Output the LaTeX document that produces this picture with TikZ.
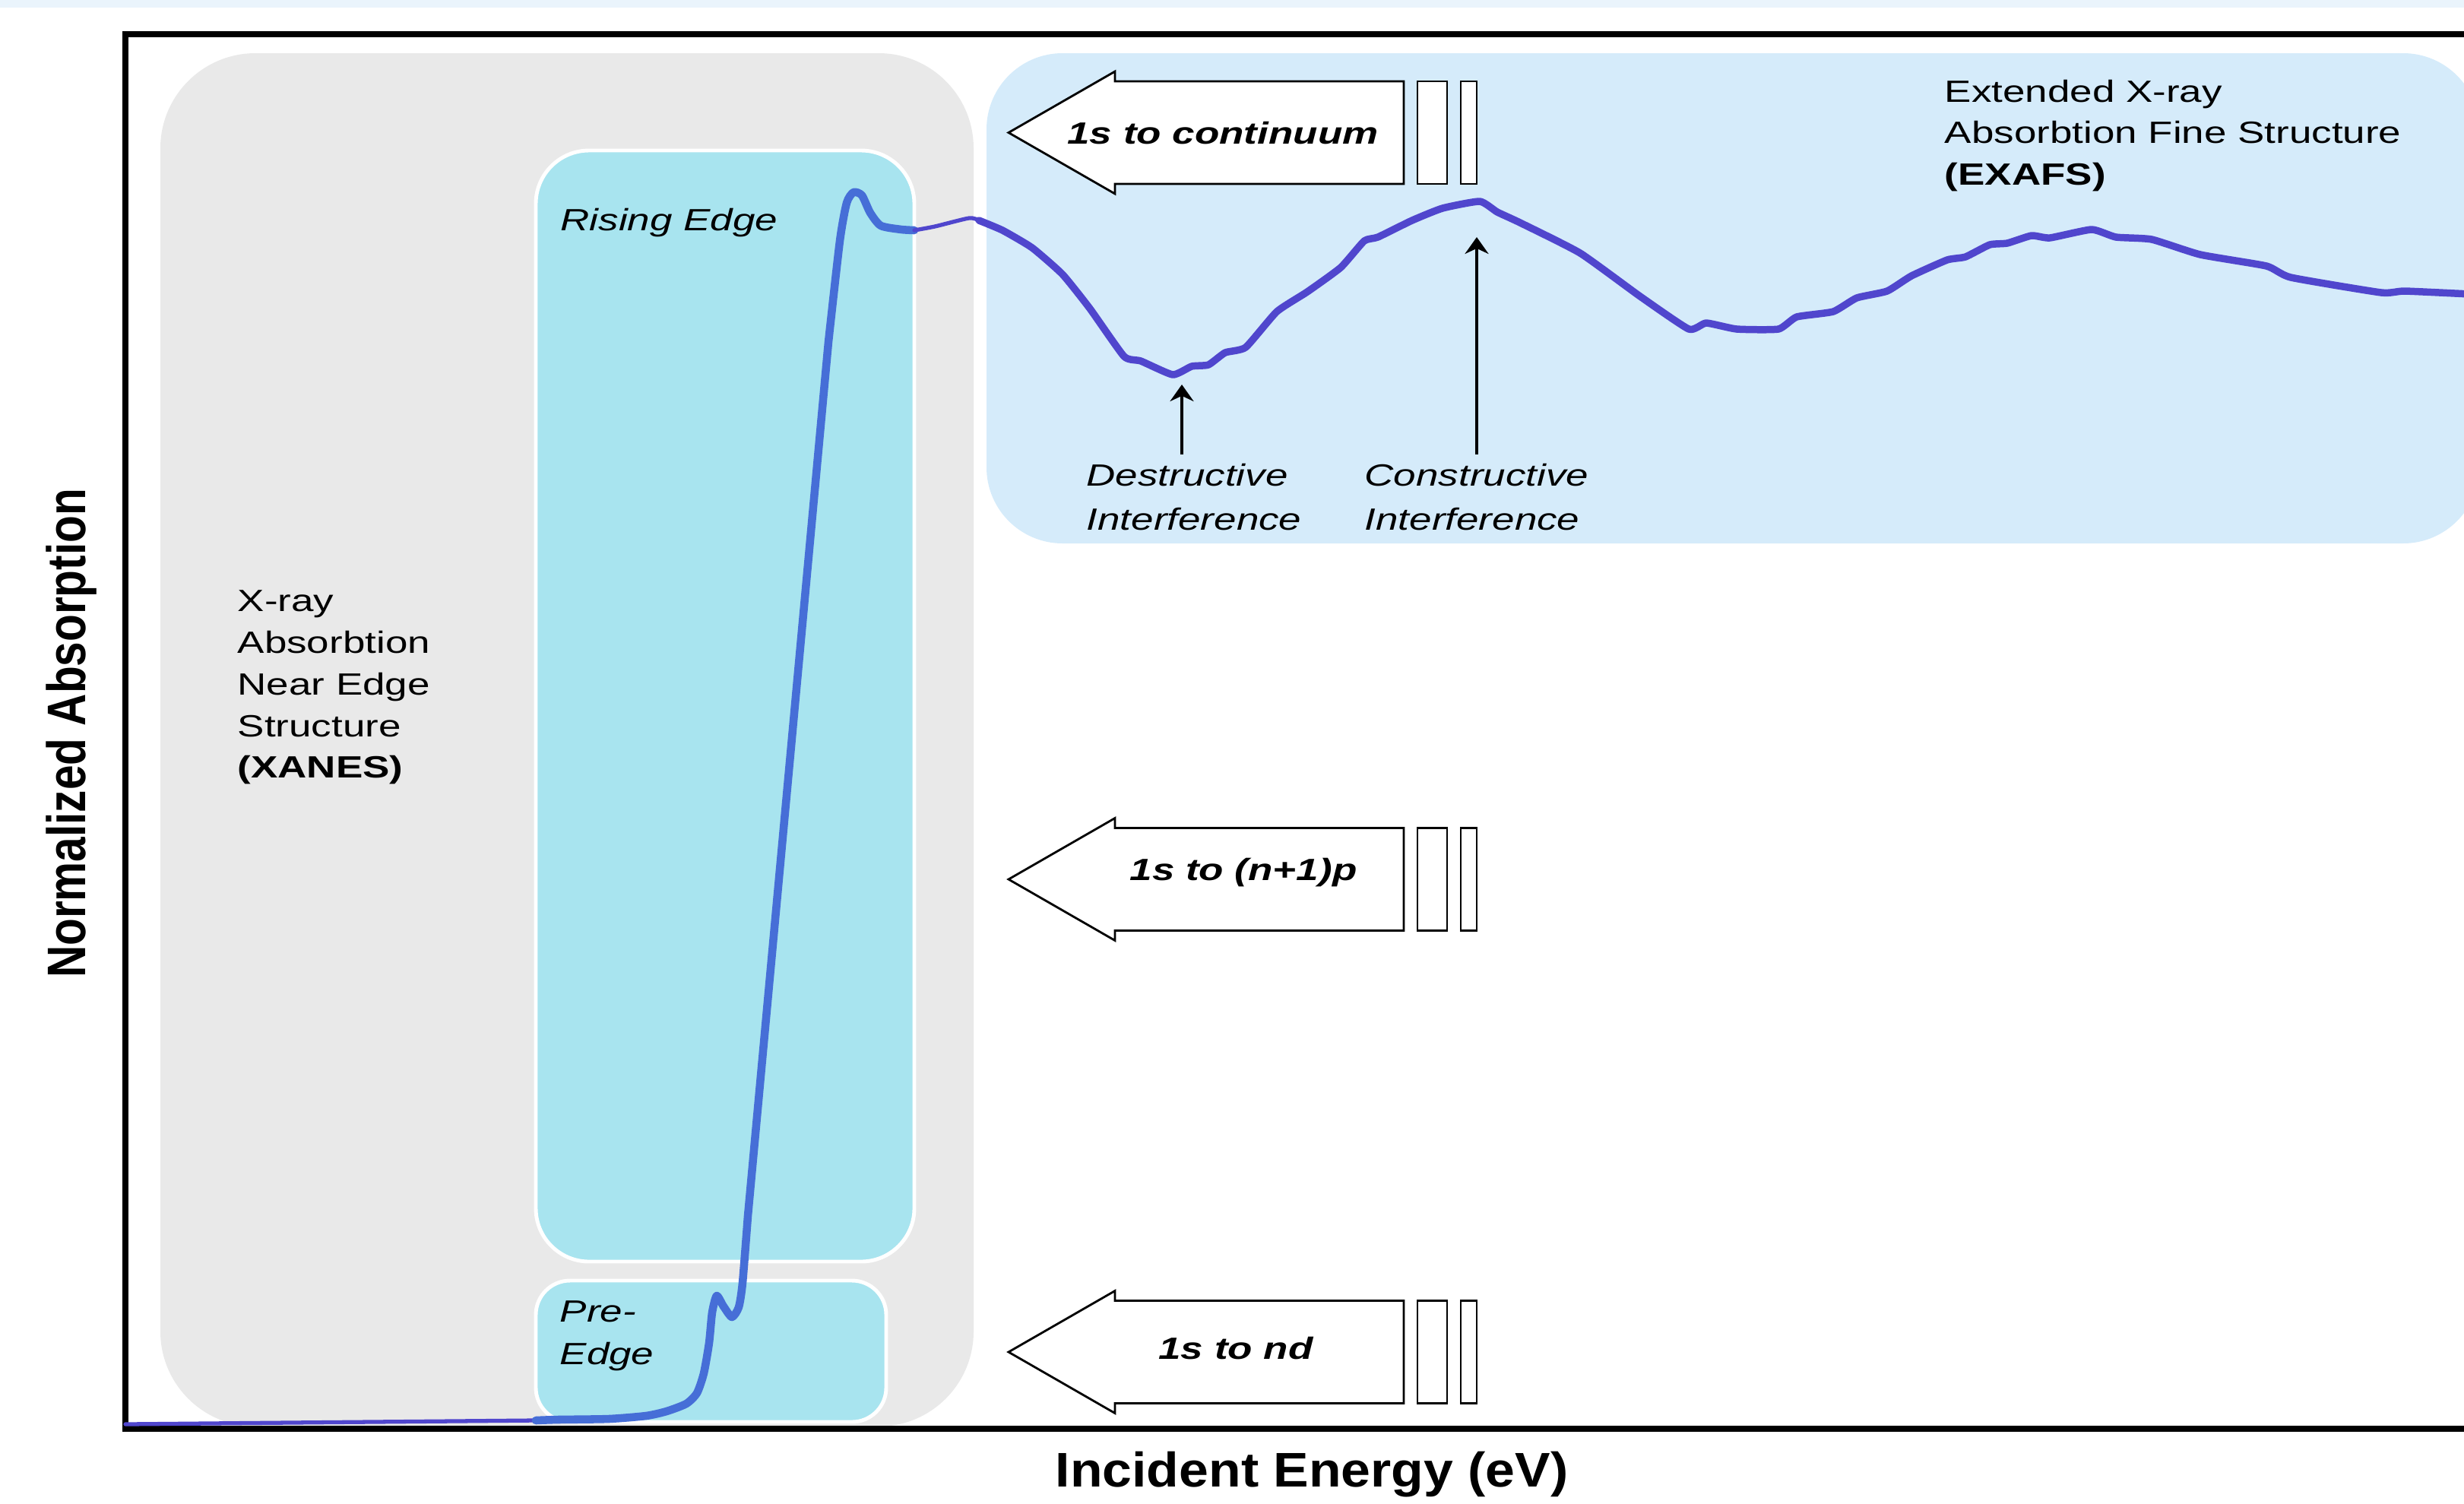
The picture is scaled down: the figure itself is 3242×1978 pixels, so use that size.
\documentclass[tikz,border=0pt]{standalone}
\usepackage{fontspec}
\setmainfont{Liberation Sans}[FakeStretch=1.31]
\newfontfamily\xaxisfont{Liberation Sans}[FakeStretch=1.09]
\newfontfamily\yaxisfont{Liberation Sans}[FakeStretch=0.82]
\usetikzlibrary{arrows.meta}
\definecolor{xanesgrey}{HTML}{E9E9E9}
\definecolor{edgecyan}{HTML}{A8E4EF}
\definecolor{exafsblue}{HTML}{D5EBFA}
\definecolor{edgeline}{HTML}{466ED7}
\definecolor{exafsline}{HTML}{5046CD}
\definecolor{topband}{HTML}{EAF4FC}

\begin{document}
\begin{tikzpicture}
[x=0.01cm,y=-0.01cm,
  greyregion/.style={fill=xanesgrey,rounded corners=1.25cm},%
  cyanregion/.style={fill=edgecyan,draw=white,line width=1.4pt,rounded corners=#1},%
  blueregion/.style={fill=exafsblue,rounded corners=1cm},%
  labeldecorate/.style={anchor=north west,inner sep=0pt,align=left,
    font=\fontsize{11.5}{15.6}\selectfont},%
  interdecorate/.style={anchor=north west,inner xsep=0pt,inner ysep=0.11cm,
    align=left,font=\fontsize{11.5}{16.5}\selectfont\itshape},%
  arrowdecorate/.style={fill=white,draw=black,line width=0.8pt},%
  textdecorate/.style={anchor=base,inner sep=0pt,
    font=\fontsize{11.5}{13}\selectfont\bfseries\itshape},%
  linedecorate/.style={-{Stealth[length=2.2mm,width=3.1mm]},line width=1pt},%
  framedecorate/.style={line width=2.4pt},%
  curvedecorate/.style={line join=round,line cap=round}]
\useasboundingbox (0,0) rectangle (3242,1978);
%% regions
\fill[topband] (0,0) rectangle (3242,10);
\fill[greyregion] (211,70) rectangle (1281,1877);
\path[cyanregion=0.7cm] (705,198) rectangle (1203,1660);
\path[cyanregion=0.45cm] (705,1685) rectangle (1166,1871);
\fill[blueregion] (1298,70) rectangle (3262,715);
%% transition arrows
\foreach \yc/\xt/\yb/\txt/\nm in {174.5/1609/189/1s to continuum/cont,
  1157/1636/1158/1s to (n+1)p/np, 1779/1626/1788/1s to nd/nd}
{
  \draw[arrowdecorate] (1327,\yc) -- (1467,\yc-80.5) -- (1467,\yc-67.5)
    -- (1847,\yc-67.5) -- (1847,\yc+67.5) -- (1467,\yc+67.5)
    -- (1467,\yc+80.5) -- cycle;
  \draw[arrowdecorate] (1865,\yc-67.5) rectangle (1904,\yc+67.5);
  \draw[arrowdecorate] (1922,\yc-67.5) rectangle (1943,\yc+67.5);
  \node[textdecorate] (\nm) at (\xt,\yb) {\txt};
}
%% axes
\draw[framedecorate] (3242,45) -- (165,45) -- (165,1880) -- (3242,1880);
%% absorption curve
\draw[curvedecorate,exafsline,line width=1.5pt] (165,1874) -- (705,1869);
\draw[curvedecorate,edgeline,line width=3pt] plot[smooth,tension=0.4] coordinates
  {(705,1869) (734,1868) (801,1867) (850,1863) (877,1857) (903,1847) (917,1833)
   (926,1807) (933,1767) (937,1727) (943,1705) (952,1719) (963,1733) (972,1720)
   (977,1688) (984,1600)}
  -- (1090,450) plot[smooth,tension=0.4] coordinates
  {(1090,450) (1105,317) (1114,267) (1123,253) (1134,257) (1145,280) (1159,297)
   (1186,302) (1203,303)};
\draw[curvedecorate,exafsline,line width=1.5pt] plot[smooth,tension=0.4] coordinates
  {(1203,303) (1230,298) (1275,287) (1288,290)};
\draw[curvedecorate,exafsline,line width=2.7pt] plot[smooth,tension=0.3] coordinates
  {(1288,290) (1319,303) (1358,326) (1398,361) (1434,406) (1479,469) (1501,475)
   (1543,493) (1568,482) (1590,480) (1612,464) (1639,457) (1680,410) (1720,384)
   (1764,352) (1795,317) (1813,312) (1858,290) (1898,274) (1947,265) (1970,279)
   (2000,293) (2079,333) (2158,390) (2222,433) (2245,425) (2285,433) (2340,433)
   (2364,417) (2412,410) (2443,392) (2483,383) (2515,363) (2562,342) (2586,338)
   (2618,322) (2641,320) (2673,310) (2697,313) (2752,302) (2784,312) (2831,315)
   (2895,335) (2982,350) (3014,365) (3133,385) (3164,383) (3250,387)};
%% region labels
\node[labeldecorate] (xanes) at (312,776)
  {X-ray\\Absorbtion\\Near Edge\\Structure\\\textbf{(XANES)}};
\node[labeldecorate,font=\fontsize{11.5}{15.6}\selectfont\itshape] (rising)
  at (737,273) {Rising Edge};
\node[labeldecorate,font=\fontsize{11.5}{15.9}\selectfont\itshape] (preedge)
  at (736,1711) {Pre-\\Edge};
\node[labeldecorate] (exafs) at (2558,104)
  {Extended X-ray\\Absorbtion Fine Structure\\\textbf{(EXAFS)}};
%% interference pointers
\coordinate (dtip) at (1555,506);
\coordinate (ctip) at (1943,312);
\node[interdecorate] (destr) at (1429,598) {Destructive\\Interference};
\node[interdecorate] (constr) at (1795,598) {Constructive\\Interference};
\draw[linedecorate] (destr.north -| dtip) -- (dtip);
\draw[linedecorate] (constr.north -| ctip) -- (ctip);
%% axis labels
\node[anchor=base,inner sep=0pt,font=\xaxisfont\bfseries\fontsize{18.2}{20}\selectfont]
  (xlabel) at (1726,1956) {Incident Energy (eV)};
\node[anchor=base,inner sep=0pt,rotate=90,
  font=\yaxisfont\bfseries\fontsize{20.3}{22}\selectfont]
  (ylabel) at (112,965) {Normalized Absorption};
\end{tikzpicture}
\end{document}
